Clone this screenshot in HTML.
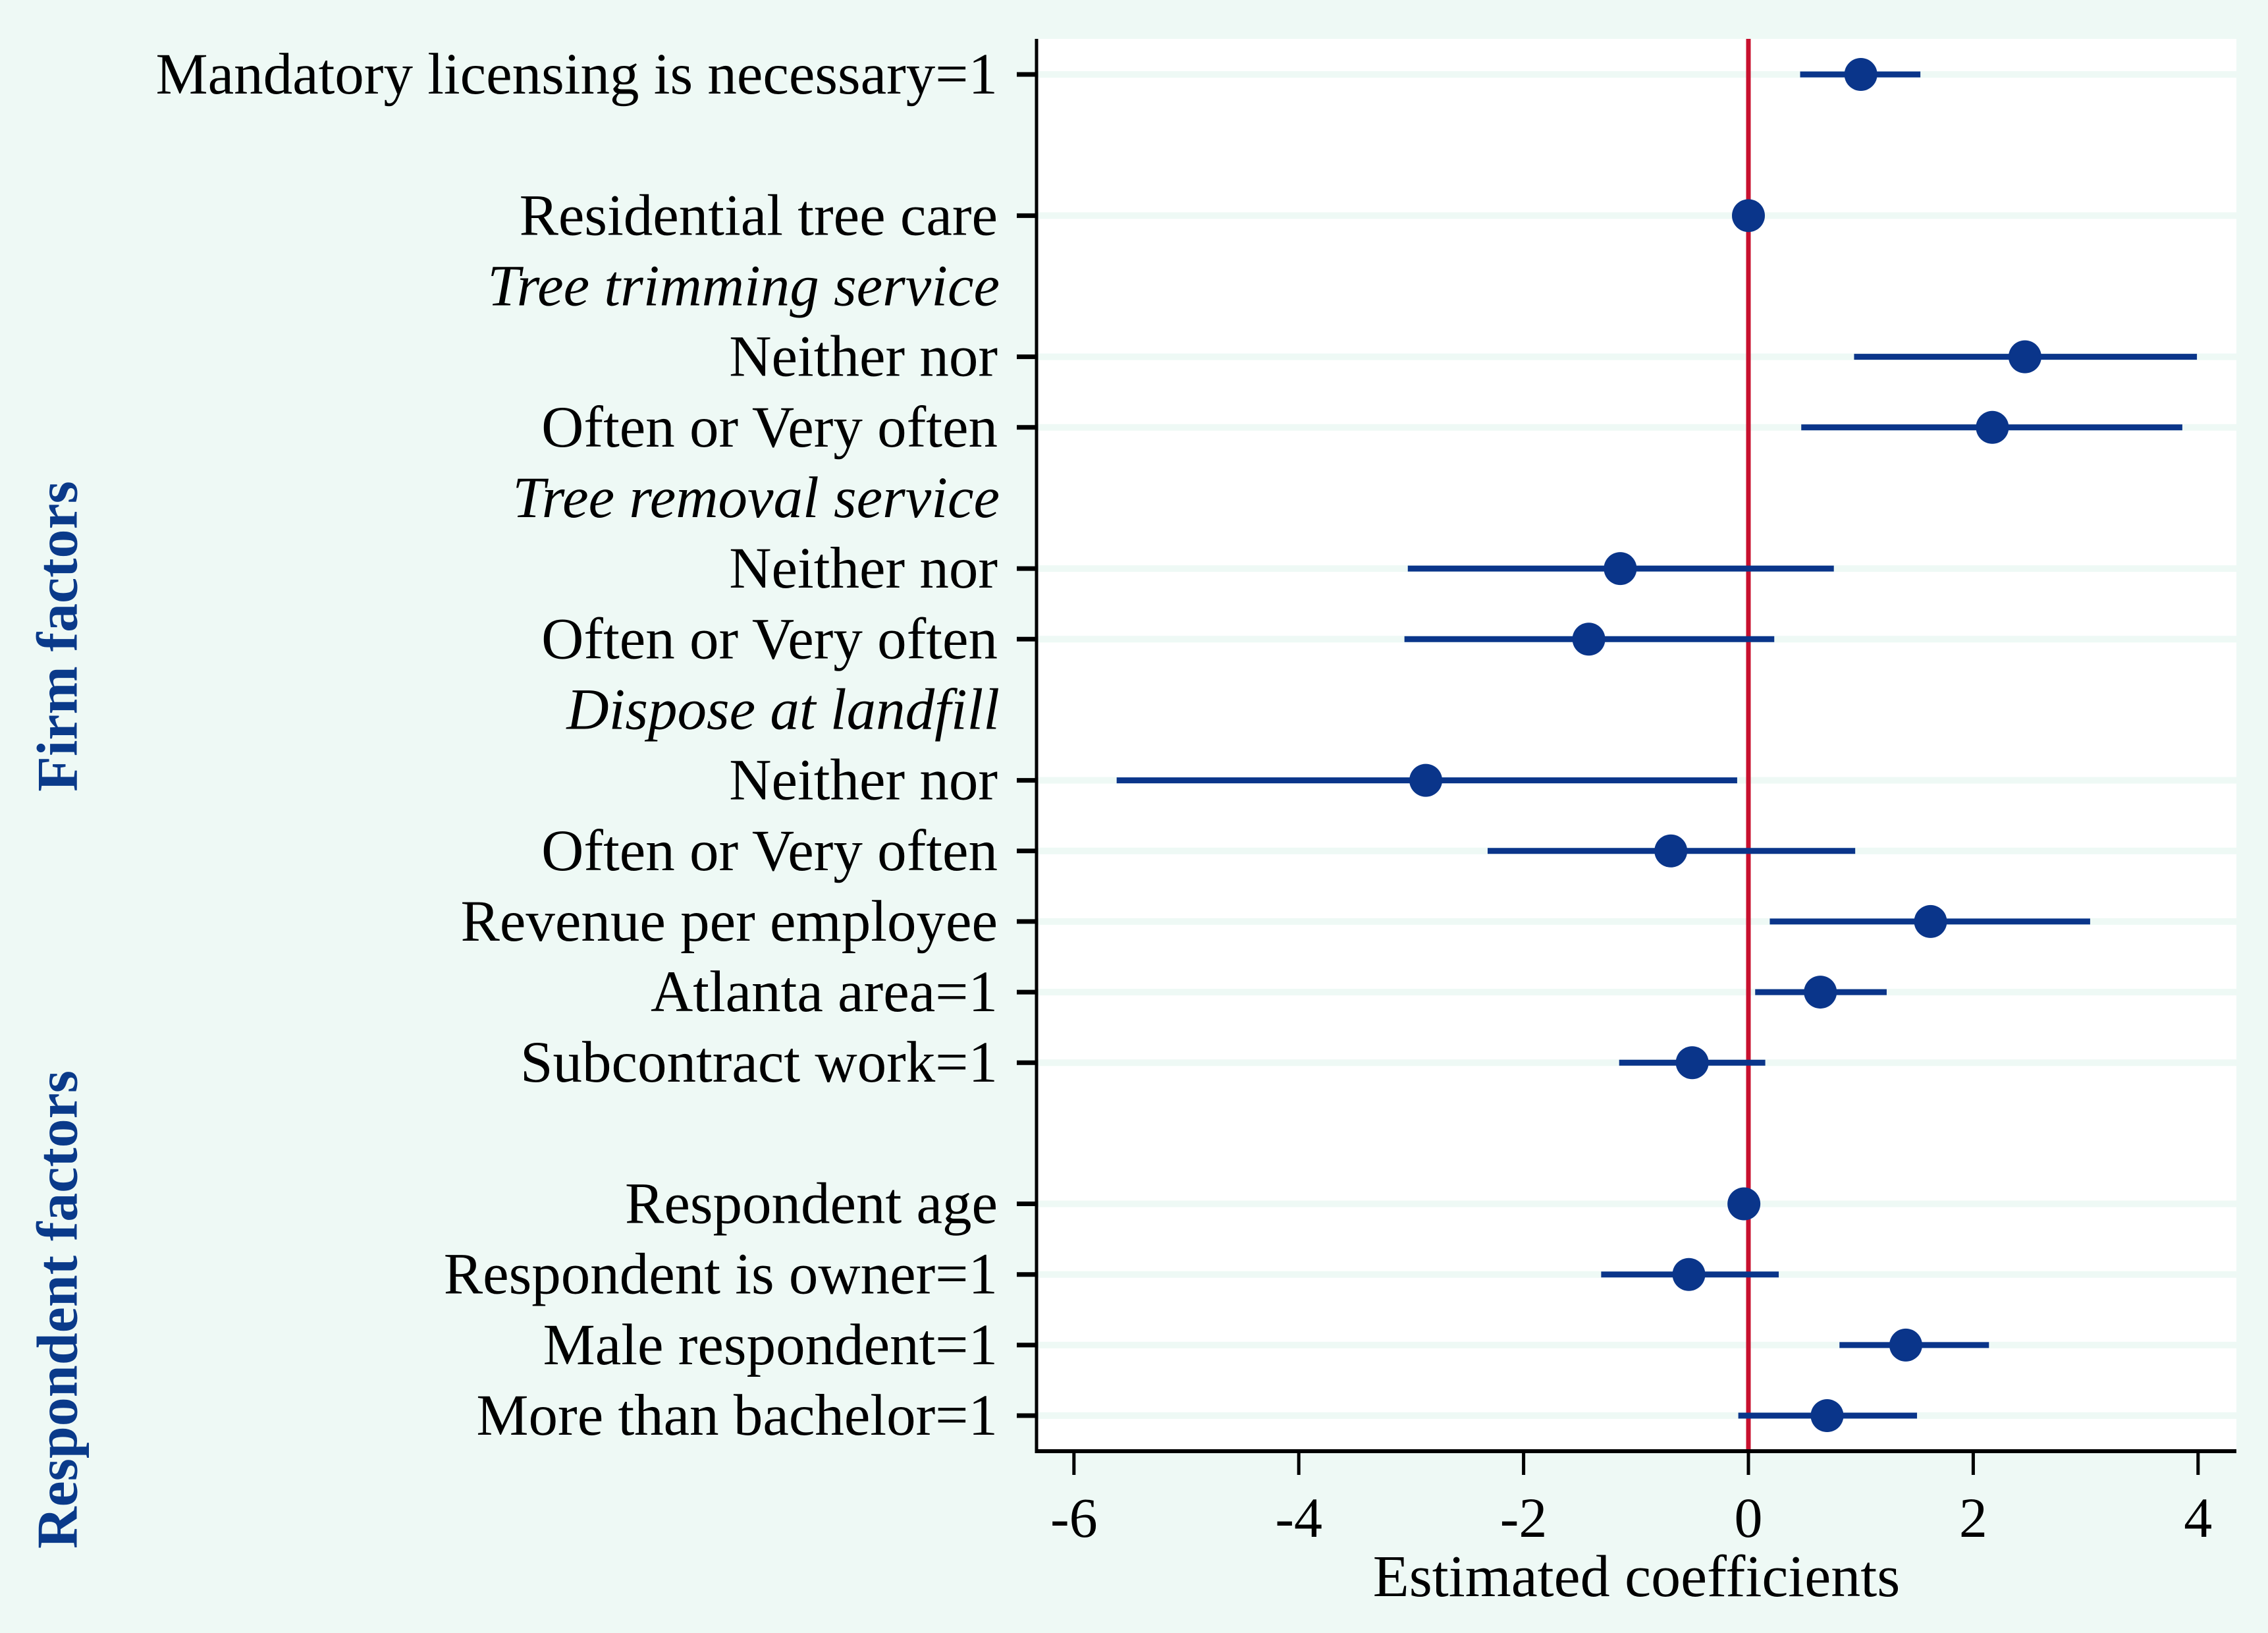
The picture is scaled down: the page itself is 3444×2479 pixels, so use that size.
<!DOCTYPE html>
<html><head><meta charset="utf-8"><style>
html,body{margin:0;padding:0;background:#eef9f5;}
svg{display:block;font-family:"Liberation Serif",serif;}
</style></head><body>
<svg id="chart" width="3444" height="2479" viewBox="0 0 3444 2479" xmlns="http://www.w3.org/2000/svg">
<rect x="0" y="0" width="3444" height="2479" fill="#eef9f5"/>
<rect x="1574" y="59" width="1822" height="2144" fill="#ffffff"/>
<g id="bands"></g><g id="zero"></g><g id="marks"></g><g id="axes"></g><g id="labels"></g>
<text x="88" y="966" transform="rotate(-90 88 966)" text-anchor="middle" dominant-baseline="central" font-size="88" font-weight="bold" fill="#0a3a8a">Firm factors</text>
<text x="88" y="1988" transform="rotate(-90 88 1988)" text-anchor="middle" dominant-baseline="central" font-size="88" font-weight="bold" fill="#0a3a8a">Respondent factors</text>
<text x="2485" y="2423" text-anchor="middle" font-size="90" fill="#000">Estimated coefficients</text>
</svg>
<script>
const labels = ["Mandatory licensing is necessary=1","","Residential tree care","Tree trimming service","Neither nor","Often or Very often","Tree removal service","Neither nor","Often or Very often","Dispose at landfill","Neither nor","Often or Very often","Revenue per employee","Atlanta area=1","Subcontract work=1","","Respondent age","Respondent is owner=1","Male respondent=1","More than bachelor=1"];
const isHeader = [false,false,false,true,false,false,true,false,false,true,false,false,false,false,false,false,false,false,false,false];
const coef = [1.0,null,0.0,null,2.46,2.17,null,-1.14,-1.42,null,-2.87,-0.69,1.62,0.64,-0.5,null,-0.04,-0.53,1.40,0.70];
const ciLow = [0.46,null,null,null,0.94,0.47,null,-3.03,-3.06,null,-5.62,-2.32,0.19,0.06,-1.15,null,null,-1.31,0.81,-0.09];
const ciHigh = [1.53,null,null,null,3.99,3.86,null,0.76,0.23,null,-0.10,0.95,3.04,1.23,0.15,null,null,0.27,2.14,1.50];
const xTicks = [-6,-4,-2,0,2,4];
const xTickLabels = ["-6","-4","-2","0","2","4"];

const NS="http://www.w3.org/2000/svg";
const X0=1574,X1=3396,Y0=59,Y1=2203;
const sx=v=>2655+v*170.7;
const sy=i=>113+i*107.16;
function mk(tag,attrs,parent,text){const e=document.createElementNS(NS,tag);for(const k in attrs)e.setAttribute(k,attrs[k]);if(text!==undefined)e.textContent=text;document.getElementById(parent).appendChild(e);return e;}

labels.forEach((lab,i)=>{
  if(lab==="")return;
  const y=sy(i);
  if(!isHeader[i]){
    const b=mk('rect',{x:X0,y:y-5,width:X1-X0,height:10,fill:'#eef9f5'},'bands');
    
    
    const t=mk('line',{x1:1544,x2:X0,y1:y,y2:y,stroke:'#000','stroke-width':7},'axes');
    
    
  }
  const tx=mk('text',{x:isHeader[i]?1518:1515,y:y,'text-anchor':'end','dominant-baseline':'central','font-size':89,fill:'#000','font-style':isHeader[i]?'italic':'normal'},'labels',lab);
  
  
});

const z=mk('line',{x1:sx(0),x2:sx(0),y1:Y0,y2:Y1,stroke:'#c8102e','stroke-width':7},'zero');



coef.forEach((c,i)=>{
  if(c===null)return;
  const y=sy(i);
  if(ciLow[i]!==null){
    const l=mk('line',{x1:sx(ciLow[i]),x2:sx(ciHigh[i]),y1:y,y2:y,stroke:'#0a358a','stroke-width':9},'marks');
    
    
  }
  const p=mk('circle',{cx:sx(c),cy:y,r:25,fill:'#0a358a'},'marks');
  
  
});

const la=mk('line',{x1:X0,x2:X0,y1:Y0,y2:Y1+3,stroke:'#000','stroke-width':5},'axes');


const ba=mk('line',{x1:X0,x2:X1,y1:Y1,y2:Y1,stroke:'#000','stroke-width':6},'axes');


xTicks.forEach((v,k)=>{
  const t=mk('line',{x1:sx(v),x2:sx(v),y1:Y1,y2:Y1+36,stroke:'#000','stroke-width':5},'axes');
  
  
  const tl=mk('text',{x:sx(v),y:2333,'text-anchor':'middle','font-size':86,fill:'#000'},'labels',xTickLabels[k]);
  
  
});
</script>
</body></html>
